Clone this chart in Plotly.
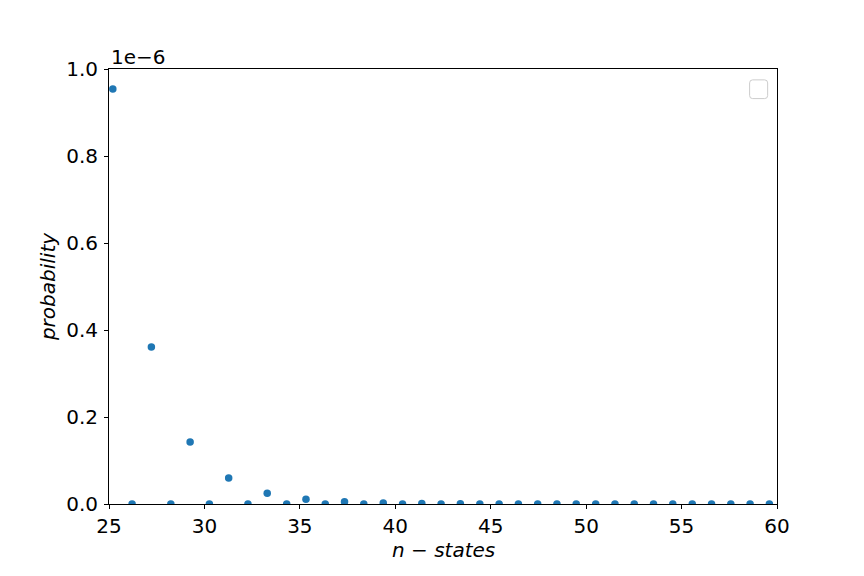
import plotly.graph_objects as go

n_states = [25.2, 26.21, 27.22, 28.24, 29.25, 30.26, 31.27, 32.28, 33.29, 34.31,
            35.32, 36.33, 37.34, 38.35, 39.37, 40.38, 41.39, 42.4, 43.41, 44.43,
            45.44, 46.45, 47.46, 48.47, 49.48, 50.5, 51.51, 52.52, 53.53, 54.54,
            55.56, 56.57, 57.58, 58.59, 59.6]
probability = [0.954e-6, 0.0, 0.361e-6, 0.0, 0.1425e-6, 0.0, 0.0598e-6, 0.0, 0.025e-6, 0.0,
               0.011e-6, 0.0, 0.005e-6, 0.0, 0.0022e-6, 0.0, 0.0012e-6, 0.0, 0.0004e-6, 0.0,
               0.0002e-6, 0.0, 0.0001e-6, 0.0, 0.0, 0.0, 0.0, 0.0, 0.0, 0.0,
               0.0, 0.0, 0.0, 0.0, 0.0]
scale = 1e6
y_ticks = [0.0, 0.2, 0.4, 0.6, 0.8, 1.0]
x_ticks = [25, 30, 35, 40, 45, 50, 55, 60]

font = "DejaVu Sans"
fig = go.Figure()
fig.add_trace(go.Scatter(
    x=n_states, y=[p * scale for p in probability], mode="markers",
    marker=dict(color="#1f77b4", size=7.5, line=dict(width=0)),
    cliponaxis=True, showlegend=False))

fig.update_layout(
    width=856, height=568, plot_bgcolor="white", paper_bgcolor="white",
    margin=dict(l=101, r=87, t=61, b=72),
    font=dict(family=font, size=20, color="black"),
    xaxis=dict(range=[25, 60], tickvals=x_ticks, ticktext=[str(t) for t in x_ticks],
               showgrid=False, zeroline=False, showline=True, linecolor="black",
               linewidth=1, mirror=True, ticks="outside", ticklen=4, tickwidth=1,
               tickcolor="black", tickfont=dict(size=20), ticklabelstandoff=0),
    yaxis=dict(range=[0, 1.0], tickvals=y_ticks, ticktext=[f"{t:.1f}" for t in y_ticks],
               showgrid=False, zeroline=False, showline=True, linecolor="black",
               linewidth=1, mirror=True, ticks="outside", ticklen=4, tickwidth=1,
               tickcolor="black", tickfont=dict(size=20), ticklabelstandoff=2,
               title=dict(text="<i>probability</i>", font=dict(size=20), standoff=5)),
)

fig.add_annotation(text="<i>n</i> − <i>states</i>", xref="paper", yref="paper", x=0.5, y=0,
                   xanchor="center", yanchor="top", showarrow=False, yshift=-32,
                   font=dict(size=20, family=font))
fig.add_annotation(text="1e−6", xref="paper", yref="paper", x=0, y=1.0,
                   xanchor="left", yanchor="bottom", showarrow=False, yshift=-2,
                   font=dict(size=20, family=font))

# empty legend frame
x0, x1, y0, y1 = 0.959, 0.986, 0.932, 0.975
rx, ry = 0.0045, 0.0069
path = (f"M {x0+rx},{y1} L {x1-rx},{y1} Q {x1},{y1} {x1},{y1-ry} "
        f"L {x1},{y0+ry} Q {x1},{y0} {x1-rx},{y0} L {x0+rx},{y0} "
        f"Q {x0},{y0} {x0},{y0+ry} L {x0},{y1-ry} Q {x0},{y1} {x0+rx},{y1} Z")
fig.add_shape(type="path", path=path, xref="paper", yref="paper",
              line=dict(color="#cccccc", width=1), fillcolor="rgba(255,255,255,0.8)")

fig.write_html("out.html")
